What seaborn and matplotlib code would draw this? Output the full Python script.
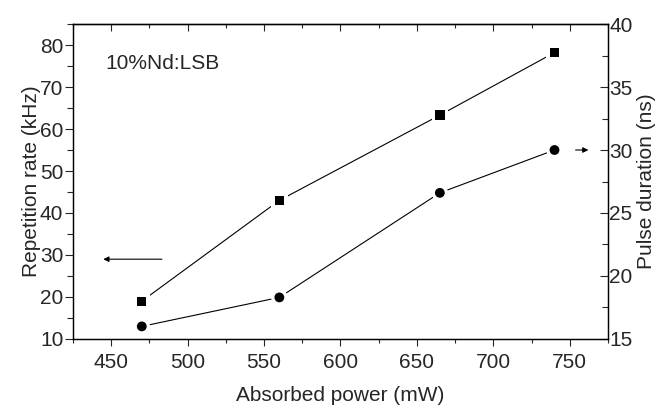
import matplotlib
matplotlib.use("Agg")
import matplotlib.pyplot as plt
import seaborn as sns
import pandas as pd
from matplotlib.ticker import MultipleLocator

power = [470, 560, 665, 740]
rep_rate = [19, 43, 63.3, 78.2]
pulse_dur = [16.0, 18.3, 26.6, 30.0]

sns.set_style("ticks")
plt.rcParams['font.family'] = ['Liberation Sans', 'DejaVu Sans']
plt.rcParams['font.size'] = 15

FS = 15

df = pd.DataFrame({"power": power, "rep": rep_rate, "dur": pulse_dur})

fig = plt.figure(figsize=(6.6, 4.05), dpi=100)
ax = fig.add_axes([0.1106, 0.163, 0.8106, 0.7777])
ax2 = ax.twinx()

# Left series (squares)
sns.lineplot(data=df, x="power", y="rep", ax=ax, color="black", lw=0.8)
sns.scatterplot(data=df, x="power", y="rep", ax=ax, marker="s", s=140, color="white", edgecolor="none", zorder=3)
sns.scatterplot(data=df, x="power", y="rep", ax=ax, marker="s", s=45, color="black", edgecolor="none", zorder=4)

# Right series (circles)
sns.lineplot(data=df, x="power", y="dur", ax=ax2, color="black", lw=0.8)
sns.scatterplot(data=df, x="power", y="dur", ax=ax2, marker="o", s=140, color="white", edgecolor="none", zorder=3)
sns.scatterplot(data=df, x="power", y="dur", ax=ax2, marker="o", s=50, color="black", edgecolor="none", zorder=4)

ax.set_xlim(425, 775)
ax.set_ylim(10, 85)
ax2.set_ylim(15, 40)

ax.xaxis.set_major_locator(MultipleLocator(50))
ax.xaxis.set_minor_locator(MultipleLocator(25))
ax.yaxis.set_major_locator(MultipleLocator(10))
ax.yaxis.set_minor_locator(MultipleLocator(5))
ax2.yaxis.set_major_locator(MultipleLocator(5))
ax2.yaxis.set_minor_locator(MultipleLocator(2.5))

ax.set_xlabel("Absorbed power (mW)", fontsize=FS, labelpad=10)
ax.set_ylabel("Repetition rate (kHz)", fontsize=FS, labelpad=-1)
ax2.set_ylabel("Pulse duration (ns)", fontsize=FS, rotation=90, labelpad=3)

ax.tick_params(axis='x', which='both', direction='out', top=False, labeltop=False, labelsize=FS, width=0.8, pad=5)
ax.tick_params(axis='x', which='major', length=5)
ax.tick_params(axis='x', which='minor', length=3)
ax.tick_params(axis='y', which='both', direction='out', labelsize=FS, width=0.8, pad=1)
ax.tick_params(axis='y', which='major', length=6)
ax.tick_params(axis='y', which='minor', length=4)
ax2.tick_params(axis='y', which='both', direction='in', labelsize=FS, width=0.8, pad=1)
ax2.tick_params(axis='y', which='major', length=6)
ax2.tick_params(axis='y', which='minor', length=4)

axt = ax.secondary_xaxis('top')
axt.xaxis.set_major_locator(MultipleLocator(50))
axt.xaxis.set_minor_locator(MultipleLocator(25))
axt.tick_params(axis='x', which='both', direction='in', labeltop=False, width=0.8)
axt.tick_params(axis='x', which='major', length=5)
axt.tick_params(axis='x', which='minor', length=3)
axt.spines['top'].set_linewidth(0.9)

for a in (ax, ax2):
    for sp in a.spines.values():
        sp.set_visible(True)
        sp.set_linewidth(0.9)
        sp.set_color("black")

ax.text(446, 75.7, "10%Nd:LSB", fontsize=FS, ha="left", va="center")

ax.annotate("", xy=(443, 29), xytext=(485, 29),
            arrowprops=dict(arrowstyle="-|>", color="black", lw=0.8, mutation_scale=8))
ax2.annotate("", xy=(764, 30), xytext=(752, 30),
             arrowprops=dict(arrowstyle="-|>", color="black", lw=0.8, mutation_scale=8))

fig.savefig("out.png", dpi=100)
